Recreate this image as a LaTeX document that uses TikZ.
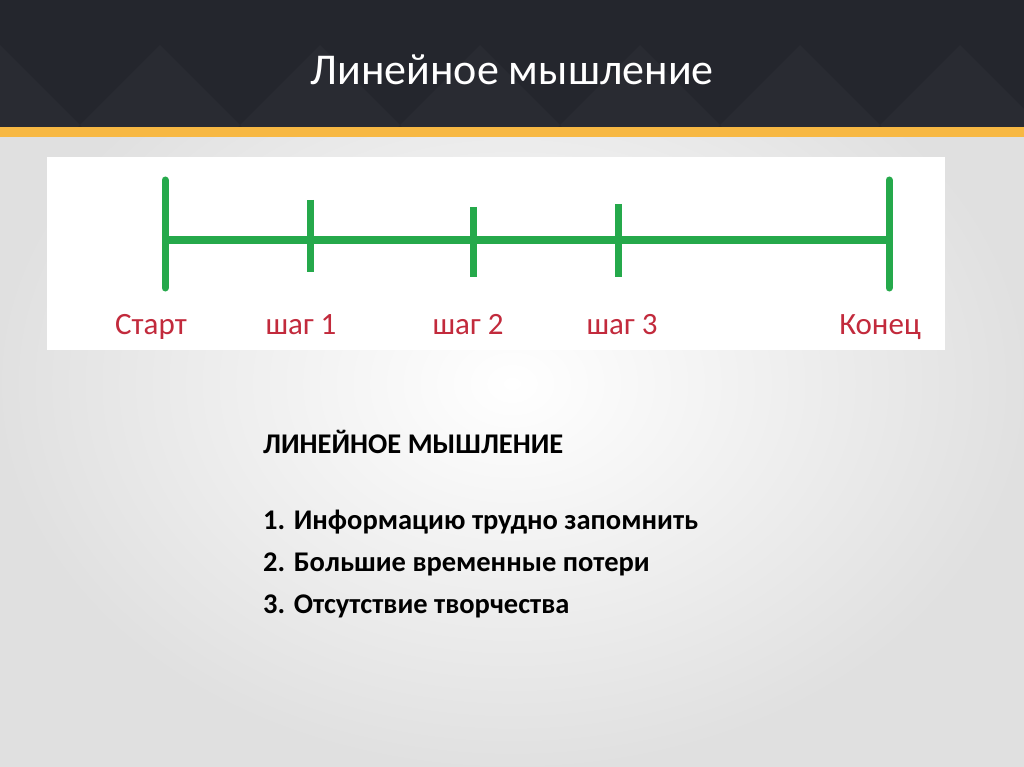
\documentclass[tikz,border=0pt]{standalone}
\usepackage{fontspec}
\setmainfont{Carlito}
\usepackage{xcolor}
\usetikzlibrary{calc}
\usetikzlibrary{positioning}

\definecolor{headbg}{HTML}{24262D}
\definecolor{headtile}{HTML}{292B32}
\definecolor{stripe}{HTML}{F7B843}
\definecolor{linegreen}{HTML}{25A94B}
\definecolor{labelred}{HTML}{C22A3C}

\tikzset{
  tick/.style={draw=linegreen, line width=7pt},
  axis/.style={draw=linegreen, line width=8pt},
  steplabel/.style={anchor=base, text=labelred, font=\fontsize{31}{33}\selectfont},
  listline/.style={anchor=base west, inner sep=0pt, font=\bfseries\fontsize{28.5}{30}\selectfont}
}

\begin{document}
\begin{tikzpicture}[x=1pt, y=-1pt]
\useasboundingbox (0,0) rectangle (1024,767);
% background
\shade[inner color=white, outer color=black!12] (0,0) rectangle (1024,767);
\fill[headbg] (0,0) rectangle (1024,128);
\begin{scope}
\clip (0,0) rectangle (1024,128);
\foreach \cx in {0,160,...,1120}
  \fill[headtile] (\cx,45) -- (\cx+80,125) -- (\cx,205) -- (\cx-80,125) -- cycle;
\end{scope}
\fill[stripe] (0,127) rectangle (1024,137);
\node[text=white, font=\fontsize{44}{46}\selectfont] (title) at (512,70) {Линейное мышление};

% timeline panel
\fill[white] (47,157) rectangle (945,350);
\coordinate (S) at (165,240);
\coordinate (E) at (889,240);
\draw[axis] (S) -- (E);
\draw[tick, line cap=round] (165,180) -- (165,288);
\draw[tick] (310,200) -- (310,272);
\draw[tick] (473,207) -- (473,277);
\draw[tick] (618,204) -- (618,277);
\draw[tick, line cap=round] (889,180) -- (889,288);

\node[steplabel] (start) at (151,334) {Старт};
\node[steplabel] (s1) at (301,334) {шаг 1};
\node[steplabel] (s2) at (468,334) {шаг 2};
\node[steplabel] (s3) at (622,334) {шаг 3};
\node[steplabel] (end) at (880,334) {Конец};

% text block
\node[listline] (head) at (263,453) {ЛИНЕЙНОЕ МЫШЛЕНИЕ};
\node[listline] (i1) at (263,529) {1. Информацию трудно запомнить};
\node[listline] (i2) at (263,571) {2. Большие временные потери};
\node[listline] (i3) at (263,613) {3. Отсутствие творчества};
\end{tikzpicture}
\end{document}
